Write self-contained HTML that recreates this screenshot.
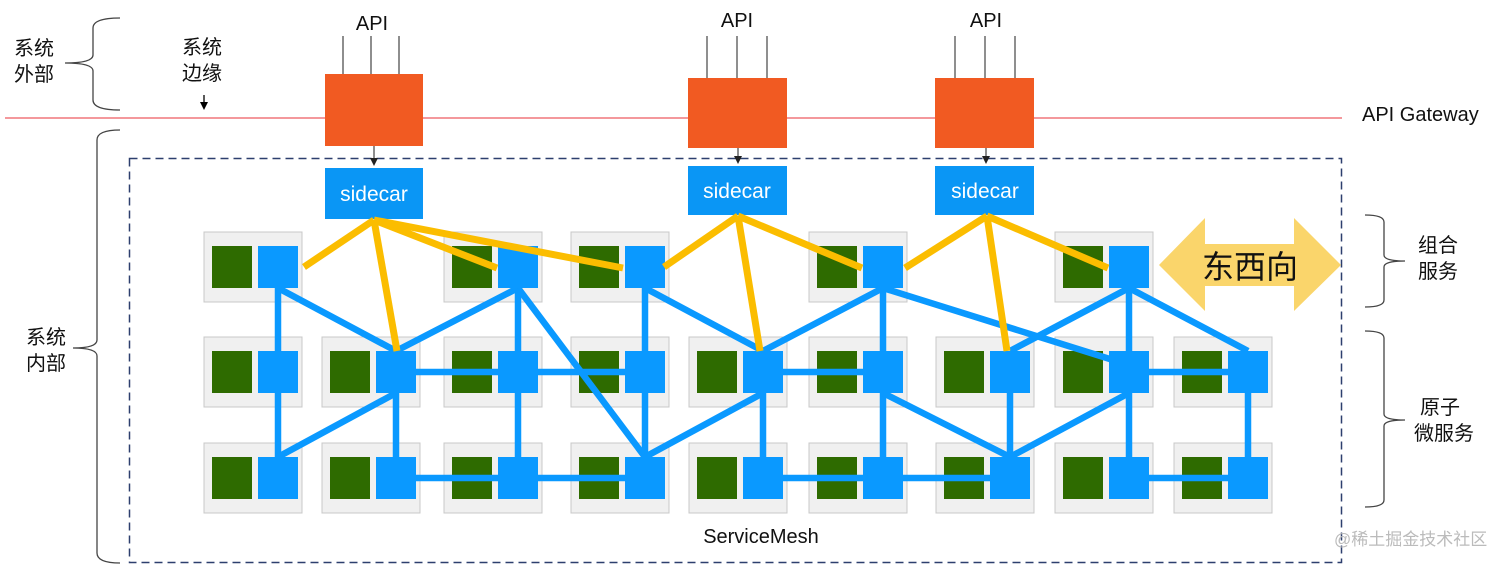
<!DOCTYPE html>
<html><head><meta charset="utf-8"><style>
html,body{margin:0;padding:0;background:#fff;}
svg{display:block;}
text{font-family:"Liberation Sans","Noto Sans CJK SC",sans-serif;}
</style></head><body>
<svg width="1512" height="565" viewBox="0 0 1512 565" xmlns="http://www.w3.org/2000/svg">
<defs>
<g id="cell"><rect x="0" y="0" width="98" height="70" fill="#f0f0f0" stroke="#c8c8c8" stroke-width="1"/><rect x="8" y="14" width="40" height="42" fill="#2e6b00"/></g>
</defs>
<line x1="5" y1="118" x2="1342" y2="118" stroke="#e8323a" stroke-width="1"/>
<rect x="129.5" y="158.5" width="1212" height="404" fill="none" stroke="#2d3f6e" stroke-width="1.5" stroke-dasharray="8,5"/>
<g fill="none" stroke="#444" stroke-width="1.3">
<path d="M120,18 Q93,18 93,28 L93,55 Q93,63 65,63 Q93,63 93,71 L93,100 Q93,110 120,110"/>
<path d="M120,130 Q97,130 97,140 L97,340 Q97,348 73,348 Q97,348 97,356 L97,553 Q97,563 120,563"/>
<path d="M1365,215 Q1384,215 1384,222 L1384,255 Q1384,261 1405,261 Q1384,261 1384,267 L1384,300 Q1384,307 1365,307"/>
<path d="M1365,331 Q1384,331 1384,338 L1384,414 Q1384,420 1405,420 Q1384,420 1384,426 L1384,500 Q1384,507 1365,507"/>
</g>
<g font-size="20" fill="#111">
<text x="14" y="55">系统</text><text x="14" y="81">外部</text>
<text x="182" y="54">系统</text><text x="182" y="80">边缘</text>
<text x="26" y="344">系统</text><text x="26" y="370">内部</text>
<text x="1418" y="252">组合</text><text x="1418" y="278">服务</text>
<text x="1420" y="414">原子</text><text x="1414" y="440">微服务</text>
<text x="372" y="30" text-anchor="middle">API</text>
<text x="737" y="27" text-anchor="middle">API</text>
<text x="986" y="27" text-anchor="middle">API</text>
<text x="1362" y="121">API Gateway</text>
<text x="761" y="543" text-anchor="middle">ServiceMesh</text>
</g>
<text x="1334" y="545" font-size="17" fill="#bbb">@稀土掘金技术社区</text>
<line x1="204" y1="95" x2="204" y2="104" stroke="#000" stroke-width="1.3"/>
<polygon points="200,102 208,102 204,110" fill="#000"/>
<g stroke="#444" stroke-width="1.2">
<line x1="343" y1="36" x2="343" y2="75"/><line x1="371" y1="36" x2="371" y2="75"/><line x1="399" y1="36" x2="399" y2="75"/>
<line x1="707" y1="36" x2="707" y2="78"/><line x1="737" y1="36" x2="737" y2="78"/><line x1="767" y1="36" x2="767" y2="78"/>
<line x1="955" y1="36" x2="955" y2="78"/><line x1="985" y1="36" x2="985" y2="78"/><line x1="1015" y1="36" x2="1015" y2="78"/>
<line x1="374" y1="146" x2="374" y2="160"/><line x1="738" y1="148" x2="738" y2="158"/><line x1="986" y1="148" x2="986" y2="158"/>
</g>
<g fill="#222">
<polygon points="370,158 378,158 374,166"/><polygon points="734,156 742,156 738,164"/><polygon points="982,156 990,156 986,164"/>
</g>
<g fill="#f15a22">
<rect x="325" y="74" width="98" height="72"/><rect x="688" y="78" width="99" height="70"/><rect x="935" y="78" width="99" height="70"/>
</g>
<g fill="#0a96f5">
<rect x="325" y="168" width="98" height="51"/><rect x="688" y="166" width="99" height="49"/><rect x="935" y="166" width="99" height="49"/>
</g>
<g font-size="21" fill="#fff" text-anchor="middle">
<text x="374" y="201">sidecar</text><text x="737" y="198">sidecar</text><text x="985" y="198">sidecar</text>
</g>
<use href="#cell" x="204" y="232"/><use href="#cell" x="444" y="232"/><use href="#cell" x="571" y="232"/><use href="#cell" x="809" y="232"/><use href="#cell" x="1055" y="232"/>
<use href="#cell" x="204" y="337"/><use href="#cell" x="322" y="337"/><use href="#cell" x="444" y="337"/><use href="#cell" x="571" y="337"/><use href="#cell" x="689" y="337"/><use href="#cell" x="809" y="337"/><use href="#cell" x="936" y="337"/><use href="#cell" x="1055" y="337"/><use href="#cell" x="1174" y="337"/>
<use href="#cell" x="204" y="443"/><use href="#cell" x="322" y="443"/><use href="#cell" x="444" y="443"/><use href="#cell" x="571" y="443"/><use href="#cell" x="689" y="443"/><use href="#cell" x="809" y="443"/><use href="#cell" x="936" y="443"/><use href="#cell" x="1055" y="443"/><use href="#cell" x="1174" y="443"/>
<g stroke="#0a99ff" stroke-width="6.5">
<line x1="278" y1="267" x2="278" y2="372"/><line x1="278" y1="288" x2="396" y2="351"/>
<line x1="278" y1="372" x2="278" y2="478"/><line x1="396" y1="393" x2="278" y2="457"/>
<line x1="396" y1="372" x2="396" y2="478"/><line x1="396" y1="372" x2="518" y2="372"/>
<line x1="396" y1="351" x2="518" y2="288"/>
<line x1="518" y1="267" x2="518" y2="372"/><line x1="518" y1="288" x2="645" y2="457"/>
<line x1="518" y1="372" x2="518" y2="478"/><line x1="518" y1="372" x2="645" y2="372"/>
<line x1="396" y1="478" x2="518" y2="478"/><line x1="518" y1="478" x2="645" y2="478"/>
<line x1="645" y1="267" x2="645" y2="372"/><line x1="645" y1="372" x2="645" y2="478"/>
<line x1="645" y1="288" x2="763" y2="351"/><line x1="645" y1="457" x2="763" y2="393"/>
<line x1="763" y1="351" x2="883" y2="288"/><line x1="763" y1="372" x2="883" y2="372"/>
<line x1="763" y1="372" x2="763" y2="478"/>
<line x1="883" y1="267" x2="883" y2="372"/><line x1="883" y1="372" x2="883" y2="478"/>
<line x1="883" y1="288" x2="1129" y2="365"/><line x1="883" y1="393" x2="1010" y2="457"/>
<line x1="1010" y1="372" x2="1010" y2="478"/><line x1="1010" y1="351" x2="1129" y2="288"/>
<line x1="1010" y1="457" x2="1129" y2="393"/>
<line x1="1129" y1="267" x2="1129" y2="372"/><line x1="1129" y1="372" x2="1129" y2="478"/>
<line x1="1129" y1="288" x2="1248" y2="351"/><line x1="1129" y1="372" x2="1248" y2="372"/>
<line x1="1248" y1="372" x2="1248" y2="478"/><line x1="1129" y1="478" x2="1248" y2="478"/>
<line x1="763" y1="478" x2="883" y2="478"/><line x1="883" y1="478" x2="1010" y2="478"/>
</g>
<g fill="#0a99ff">
<rect x="258" y="246" width="40" height="42"/><rect x="498" y="246" width="40" height="42"/><rect x="625" y="246" width="40" height="42"/><rect x="863" y="246" width="40" height="42"/><rect x="1109" y="246" width="40" height="42"/>
<rect x="258" y="351" width="40" height="42"/><rect x="376" y="351" width="40" height="42"/><rect x="498" y="351" width="40" height="42"/><rect x="625" y="351" width="40" height="42"/><rect x="743" y="351" width="40" height="42"/><rect x="863" y="351" width="40" height="42"/><rect x="990" y="351" width="40" height="42"/><rect x="1109" y="351" width="40" height="42"/><rect x="1228" y="351" width="40" height="42"/>
<rect x="258" y="457" width="40" height="42"/><rect x="376" y="457" width="40" height="42"/><rect x="498" y="457" width="40" height="42"/><rect x="625" y="457" width="40" height="42"/><rect x="743" y="457" width="40" height="42"/><rect x="863" y="457" width="40" height="42"/><rect x="990" y="457" width="40" height="42"/><rect x="1109" y="457" width="40" height="42"/><rect x="1228" y="457" width="40" height="42"/>
</g>
<g stroke="#fbbd00" stroke-width="7">
<line x1="374" y1="220" x2="304" y2="267"/><line x1="374" y1="220" x2="397" y2="351"/>
<line x1="374" y1="220" x2="497" y2="268"/><line x1="374" y1="220" x2="623" y2="268"/>
<line x1="738" y1="216" x2="664" y2="267"/><line x1="738" y1="216" x2="760" y2="351"/><line x1="738" y1="216" x2="862" y2="268"/>
<line x1="987" y1="216" x2="905" y2="268"/><line x1="987" y1="216" x2="1007" y2="351"/><line x1="987" y1="216" x2="1108" y2="268"/>
</g>
<polygon points="1159,265 1205,218 1205,244 1294,244 1294,218 1341,265 1294,311 1294,286 1205,286 1205,311" fill="#fad56b"/>
<text x="1250" y="278" font-size="32" fill="#111" text-anchor="middle">东西向</text>
</svg>
</body></html>
